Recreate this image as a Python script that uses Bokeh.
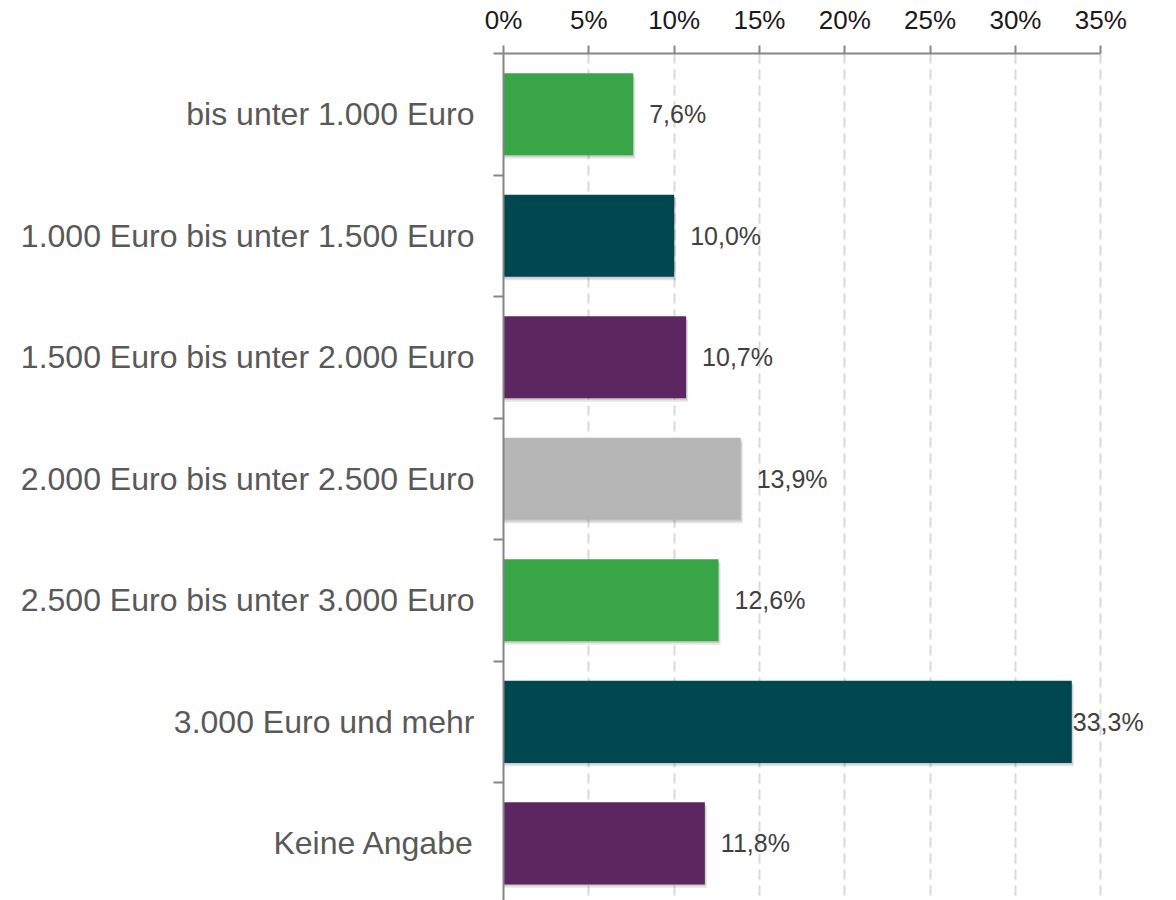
from bokeh.plotting import figure
from bokeh.models import (ColumnDataSource, FixedTicker, Range1d, LabelSet,
                          PrintfTickFormatter)
from bokeh.core.properties import value
from bokeh.embed import file_html
from bokeh.resources import INLINE

categories = [
    "bis unter 1.000 Euro",
    "1.000 Euro bis unter 1.500 Euro",
    "1.500 Euro bis unter 2.000 Euro",
    "2.000 Euro bis unter 2.500 Euro",
    "2.500 Euro bis unter 3.000 Euro",
    "3.000 Euro und mehr",
    "Keine Angabe",
]
values = [7.6, 10.0, 10.7, 13.9, 12.6, 33.3, 11.8]
colors = ["#38A646", "#004750", "#5C2760", "#B5B5B5", "#38A646", "#004750", "#5C2760"]
x_ticks = [0, 5, 10, 15, 20, 25, 30, 35]

FONT = "Liberation Sans"
n = len(categories)
centers = [i + 0.5 for i in range(n)]
labels = [f"{v:.1f}".replace(".", ",") + "%" for v in values]
x_max = x_ticks[-1]
offsets = [16 if v + 5 < x_max else 1 for v in values]

src = ColumnDataSource(dict(y=centers, v=values, c=colors, lab=labels, off=offsets,
                            ys1=[c + 0.028 for c in centers], vs1=[v + 0.12 for v in values],
                            ys2=[c + 0.014 for c in centers], vs2=[v + 0.06 for v in values]))

p = figure(width=1170, height=900, output_backend="svg", toolbar_location=None,
           x_axis_location="above", x_range=Range1d(0, 38.5),
           y_range=Range1d(start=6.97, end=0),
           min_border_left=503, min_border_right=10, min_border_top=53, min_border_bottom=0)
p.outline_line_color = None
p.background_fill_color = "white"
p.border_fill_color = "white"

# shadows
p.hbar(y="ys1", left=0, right="vs1", height=0.675, source=src,
       fill_color="black", fill_alpha=0.10, line_color=None)
p.hbar(y="ys2", left=0, right="vs2", height=0.675, source=src,
       fill_color="black", fill_alpha=0.10, line_color=None)
p.hbar(y="y", left=0, right="v", height=0.675, source=src,
       fill_color="c", line_color=None)

p.add_layout(LabelSet(x="v", y="y", text="lab", x_offset="off", source=src,
                      text_font=value(FONT), text_font_size=value("25px"),
                      text_color="#404040",
                      text_baseline="middle", text_align="left"))

# x axis (top)
xa = p.xaxis[0]
xa.bounds = (0, x_max)
xa.ticker = FixedTicker(ticks=x_ticks, minor_ticks=[])
xa.formatter = PrintfTickFormatter(format="%d%%")
xa.axis_line_color = "#868686"
xa.axis_line_width = 2
xa.major_tick_line_color = "#868686"
xa.major_tick_line_width = 2
xa.major_tick_out = 8
xa.major_tick_in = 0
xa.minor_tick_line_color = None
xa.minor_tick_out = 0
xa.minor_tick_in = 0
xa.major_label_standoff = 11
xa.major_label_text_font = FONT
xa.major_label_text_font_size = "26px"
xa.major_label_text_color = "#1a1a1a"

# y axis (left)
ya = p.yaxis[0]
ya.ticker = FixedTicker(ticks=centers, minor_ticks=list(range(n + 1)))
ya.major_label_overrides = {c: lab for c, lab in zip(centers, categories)}
ya.axis_line_color = "#868686"
ya.axis_line_width = 2
ya.major_tick_line_color = None
ya.major_tick_out = 0
ya.major_tick_in = 0
ya.minor_tick_line_color = "#868686"
ya.minor_tick_line_width = 2
ya.minor_tick_out = 10
ya.minor_tick_in = 0
ya.major_label_standoff = 19
ya.major_label_text_font = FONT
ya.major_label_text_font_size = "32px"
ya.major_label_text_color = "#595959"

p.xgrid.ticker = FixedTicker(ticks=x_ticks[1:])
p.xgrid.grid_line_color = "#D9D9D9"
p.xgrid.grid_line_width = 2
p.xgrid.grid_line_dash = "10 6"
p.ygrid.grid_line_color = None

open("out.html", "w").write(file_html(p, INLINE))
